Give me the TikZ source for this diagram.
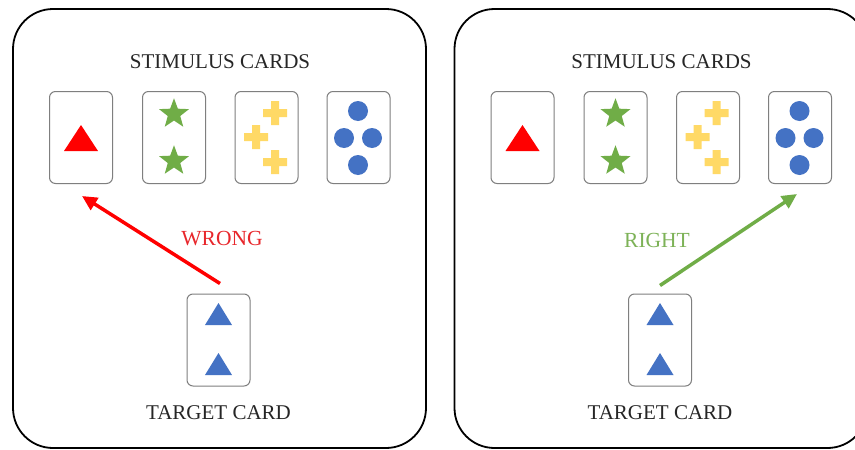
\documentclass[tikz,border=0pt]{standalone}
\usepackage{fontspec}
\setmainfont{Liberation Serif}
\usetikzlibrary{shapes.geometric,arrows.meta}
\definecolor{cred}{HTML}{FF0000}
\definecolor{cwrong}{HTML}{E8262B}
\definecolor{cgreen}{HTML}{70AD47}
\definecolor{cright}{HTML}{7DB257}
\definecolor{cyellow}{HTML}{FFD966}
\definecolor{cblue}{HTML}{4472C4}
\definecolor{cborder}{HTML}{7F7F7F}
\tikzset{
  panel/.style={draw=black, line width=1.8pt, rounded corners=40pt},
  card/.style={draw=cborder, line width=1pt, rounded corners=6pt, minimum width=63pt, minimum height=92pt, inner sep=0pt},
  heading/.style={font=\fontsize{21}{23}\selectfont, text=black!85, inner sep=0pt},
  verdict/.style={font=\fontsize{21.5}{23}\selectfont, inner sep=0pt},
  starshape/.style={star, star points=5, star point ratio=2.4, minimum size=31.5pt, inner sep=0pt, fill=cgreen},
  dot/.style={circle, fill=cblue, minimum size=20pt, inner sep=0pt},
  choice/.style={line width=3.5pt, -{Triangle[length=15pt,width=14pt]}}
}
\newcommand\plus[2]{\fill[cyellow] (#1-4,#2-12) -- (#1+4,#2-12) -- (#1+4,#2-4) -- (#1+12,#2-4) -- (#1+12,#2+4) -- (#1+4,#2+4) -- (#1+4,#2+12) -- (#1-4,#2+12) -- (#1-4,#2+4) -- (#1-12,#2+4) -- (#1-12,#2-4) -- (#1-4,#2-4) -- cycle;}
\newcommand\bluetri[2]{\fill[cblue] (#1-13.5,#2+11) -- (#1+13.5,#2+11) -- (#1,#2-11) -- cycle;}
\begin{document}
\begin{tikzpicture}[x=1pt,y=-1pt]
\clip (0,0) rectangle (855,450);
\fill[white] (0,0) rectangle (855,450);
\foreach \ox/\p in {0/L,441.5/R}{
  \begin{scope}[shift={(\ox,0)}]
    \draw[panel] (13,9) rectangle (426,448);
    \node[heading] (stim\p) at (220,62) {STIMULUS CARDS};
    \node[heading] (targ\p) at (218.5,413) {TARGET CARD};
    \node[card] (c1\p) at (81,137.5) {};
    \node[card] (c2\p) at (174,137.5) {};
    \node[card] (c3\p) at (266.5,137.5) {};
    \node[card] (c4\p) at (358.5,137.5) {};
    \node[card] (t\p) at (218.5,340) {};
    \fill[cred] (64,151) -- (98,151) -- (81,125) -- cycle;
    \node[starshape] (s1\p) at (174,114) {};
    \node[starshape] (s2\p) at (174,161) {};
    \plus{275}{113}
    \plus{256}{137}
    \plus{275}{162}
    \node[dot] (d1\p) at (358,111) {};
    \node[dot] (d2\p) at (344,138) {};
    \node[dot] (d3\p) at (372,138) {};
    \node[dot] (d4\p) at (358,165) {};
    \bluetri{218.5}{314}
    \bluetri{218.5}{364}
  \end{scope}
}
\draw[choice, cred] ([xshift=1.5pt,yshift=10pt]tL.north) -- ([xshift=1pt,yshift=-12pt]c1L.south);
\node[verdict, text=cwrong] (wrong) at (222,239) {WRONG};
\draw[choice, cgreen] ([yshift=8pt]tR.north) -- ([xshift=-3pt,yshift=-10pt]c4R.south);
\node[verdict, text=cright] (right) at (657,240) {RIGHT};
\end{tikzpicture}
\end{document}
